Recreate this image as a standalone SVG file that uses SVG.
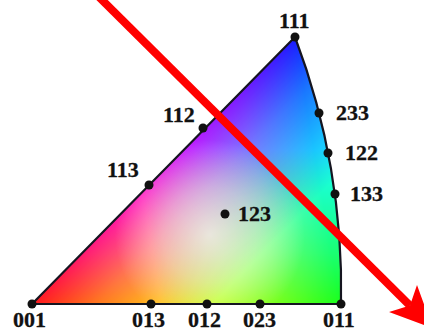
<svg xmlns="http://www.w3.org/2000/svg" width="424" height="332" viewBox="0 0 424 332">
<style>
.lbl{font-family:"Liberation Serif","Times New Roman",serif;font-weight:bold;font-size:22px;fill:#111;stroke:#111;stroke-width:0.3}
.dot{fill:#111}
.scr{mix-blend-mode:screen}
</style>
<defs>
<clipPath id="tri"><path d="M32,304 L295,37 Q344,167 341,304 Z"/></clipPath>
<linearGradient id="gR" gradientUnits="userSpaceOnUse" x1="32" y1="305" x2="332.4" y2="253.5">
<stop offset="0" stop-color="#ff0000"/><stop offset="0.42" stop-color="#ff0000"/><stop offset="0.8" stop-color="#660000"/><stop offset="1" stop-color="#000"/>
</linearGradient>
<linearGradient id="gG" gradientUnits="userSpaceOnUse" x1="341" y1="305" x2="183.5" y2="150.6">
<stop offset="0" stop-color="#00ff00"/><stop offset="0.42" stop-color="#00ff00"/><stop offset="0.8" stop-color="#006600"/><stop offset="1" stop-color="#000"/>
</linearGradient>
<linearGradient id="gB" gradientUnits="userSpaceOnUse" x1="295" y1="37" x2="295" y2="305">
<stop offset="0" stop-color="#0000ff"/><stop offset="0.42" stop-color="#0000ff"/><stop offset="0.8" stop-color="#000066"/><stop offset="1" stop-color="#000"/>
</linearGradient>
<radialGradient id="wash" gradientUnits="userSpaceOnUse" cx="210" cy="235" r="95">
<stop offset="0" stop-color="#fff" stop-opacity="0.7"/><stop offset="0.5" stop-color="#fff" stop-opacity="0.4"/><stop offset="1" stop-color="#fff" stop-opacity="0"/>
</radialGradient>
</defs>
<g id="triangle">
<g clip-path="url(#tri)" style="isolation:isolate">
<rect x="20" y="30" width="340" height="285" fill="#000"/>
<rect class="scr" x="20" y="30" width="340" height="285" fill="url(#gR)"/>
<rect class="scr" x="20" y="30" width="340" height="285" fill="url(#gG)"/>
<rect class="scr" x="20" y="30" width="340" height="285" fill="url(#gB)"/>
<rect x="20" y="30" width="340" height="285" fill="url(#wash)"/>
<rect x="20" y="30" width="340" height="285" fill="#fff" opacity="0.1"/>
</g>
<path d="M32,304 L295,37 Q344,167 341,304 Z" fill="none" stroke="#151520" stroke-width="2.2" stroke-linejoin="round"/>
</g>
<g id="n111"><circle class="dot" cx="295" cy="37" r="4.5"/><text class="lbl" x="279" y="28">111</text></g>
<g id="n112"><circle class="dot" cx="203" cy="128" r="4.5"/><text class="lbl" x="163" y="122">112</text></g>
<g id="n113"><circle class="dot" cx="149" cy="185" r="4.5"/><text class="lbl" x="107" y="177">113</text></g>
<g id="n233"><circle class="dot" cx="319" cy="113" r="4.5"/><text class="lbl" x="336" y="120">233</text></g>
<g id="n122"><circle class="dot" cx="328" cy="153" r="4.5"/><text class="lbl" x="345" y="160">122</text></g>
<g id="n133"><circle class="dot" cx="335" cy="194" r="4.5"/><text class="lbl" x="350" y="201">133</text></g>
<g id="n123"><circle class="dot" cx="225" cy="214" r="4.5"/><text class="lbl" x="238" y="221">123</text></g>
<g id="n001"><circle class="dot" cx="32" cy="304" r="4.5"/><text class="lbl" x="13" y="327">001</text></g>
<g id="n013"><circle class="dot" cx="151" cy="304" r="4.5"/><text class="lbl" x="132" y="327">013</text></g>
<g id="n012"><circle class="dot" cx="207" cy="304" r="4.5"/><text class="lbl" x="188" y="327">012</text></g>
<g id="n023"><circle class="dot" cx="260" cy="304" r="4.5"/><text class="lbl" x="243" y="327">023</text></g>
<g id="n011"><circle class="dot" cx="341" cy="304" r="4.5"/><text class="lbl" x="323" y="327">011</text></g>
<g id="connectors">
<line x1="97" y1="-5" x2="410" y2="305.6" stroke="#ff0000" stroke-width="8"/>
<polygon points="432.7,328.2 389,312 410,305.6 417,285" fill="#ff0000"/>
</g>
</svg>
